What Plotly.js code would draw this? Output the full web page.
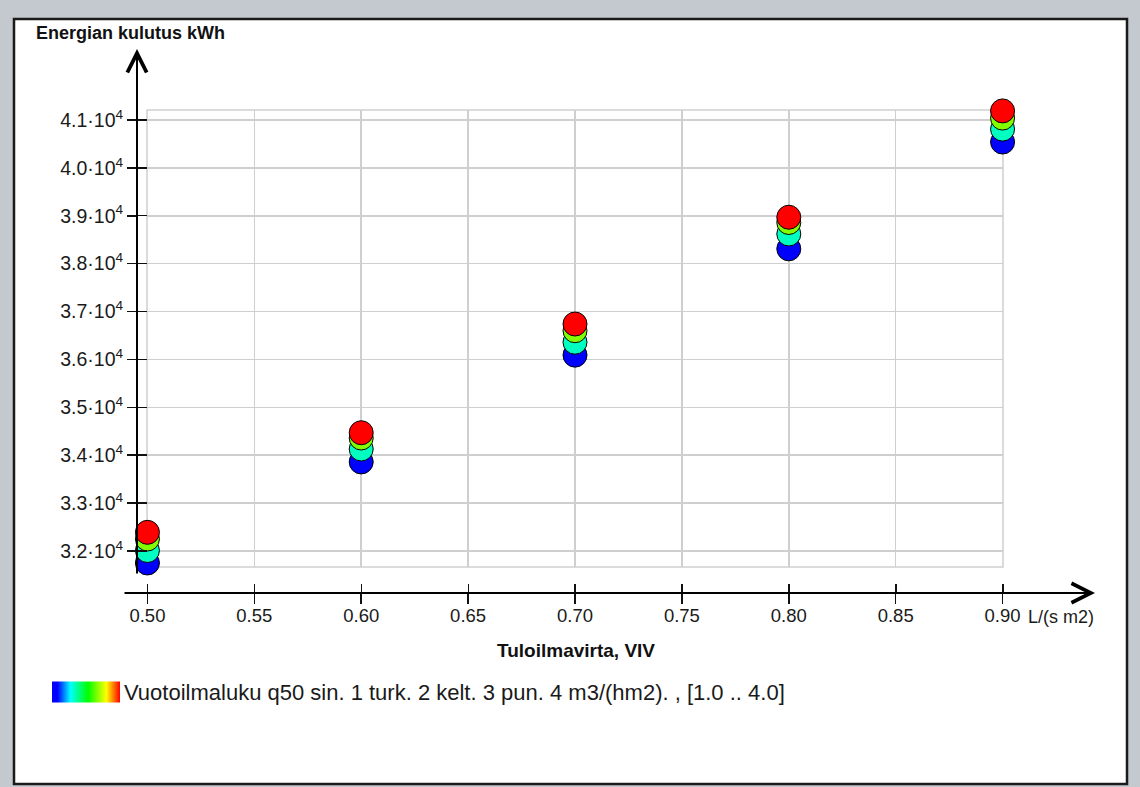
<!DOCTYPE html>
<html><head><meta charset="utf-8">
<script src="https://cdn.plot.ly/plotly-3.0.1.min.js"></script>
<style>html,body{margin:0;padding:0;background:#c3c9cf;} #chart{width:1140px;height:787px;}</style>
</head><body><div id="chart"></div>
<script>
// ---- data ----
const airflow = [0.50, 0.60, 0.70, 0.80, 0.90];          // Tuloilmavirta L/(s m2)
const q50Levels = [1, 2, 3, 4];                           // Vuotoilmaluku q50
const energyQ1 = [31750, 33860, 36090, 38310, 40540];     // sin. 1
const energyQ2 = [32010, 34130, 36360, 38620, 40810];     // turk. 2
const energyQ3 = [32250, 34360, 36600, 38860, 41040];     // kelt. 3
const energyQ4 = [32390, 34470, 36740, 38970, 41190];     // pun. 4
const xTickVals = [0.50, 0.55, 0.60, 0.65, 0.70, 0.75, 0.80, 0.85, 0.90];
const xTickText = ['0.50', '0.55', '0.60', '0.65', '0.70', '0.75', '0.80', '0.85', '0.90'];
const yTickVals = [32000, 33000, 34000, 35000, 36000, 37000, 38000, 39000, 40000, 41000];
const yTickText = ['3.2·10<sup>4</sup>', '3.3·10<sup>4</sup>', '3.4·10<sup>4</sup>', '3.5·10<sup>4</sup>', '3.6·10<sup>4</sup>',
                   '3.7·10<sup>4</sup>', '3.8·10<sup>4</sup>', '3.9·10<sup>4</sup>', '4.0·10<sup>4</sup>', '4.1·10<sup>4</sup>'];
const legendText = 'Vuotoilmaluku q50 sin. 1 turk. 2 kelt. 3 pun. 4 m3/(hm2). , [1.0 .. 4.0]';
const yTitle = 'Energian kulutus kWh';
const xTitle = 'Tuloilmavirta, VIV';
const xUnit = 'L/(s m2)';

// ---- build single colour-mapped trace ----
const series = [energyQ1, energyQ2, energyQ3, energyQ4];
const xs = [], ys = [], cs = [];
series.forEach((s, i) => s.forEach((v, j) => { xs.push(airflow[j]); ys.push(v); cs.push(q50Levels[i]); }));

const W = 1140, H = 787, ML = 137, MR = 137, MT = 110, MB = 194;
const PW = W - ML - MR, PH = H - MT - MB;
const fx = px => (px - ML) / PW;
const fy = py => 1 - (py - MT) / PH;
const FONT = 'Liberation Sans, Arial, sans-serif';

const trace = {
  type: 'scatter', mode: 'markers', x: xs, y: ys, cliponaxis: false, hoverinfo: 'x+y',
  marker: {
    size: 24, color: cs, cmin: 1, cmax: 4,
    colorscale: [[0, '#0000ff'], [0.08, '#0000ff'], [0.27, '#00ffff'], [0.53, '#00ff00'], [0.8, '#ffff00'], [1, '#ff0000']],
    line: {color: '#000', width: 1},
    showscale: true,
    colorbar: {
      orientation: 'h', thickness: 21, thicknessmode: 'pixels', len: 68, lenmode: 'pixels',
      x: fx(52), xanchor: 'left', y: fy(692), yanchor: 'middle', xpad: 0, ypad: 0,
      outlinewidth: 0, showticklabels: false, ticks: ''
    }
  }
};

const layout = {
  width: W, height: H,
  margin: {l: ML, r: MR, t: MT, b: MB, pad: 0},
  paper_bgcolor: '#c3c9cf', plot_bgcolor: 'rgba(0,0,0,0)',
  showlegend: false,
  font: {family: FONT, color: '#1a1a1a'},
  xaxis: {
    domain: [10 / PW, 1], range: [0.4998, 0.9002], anchor: 'free', position: 0,
    tickmode: 'array', tickvals: xTickVals, ticktext: xTickText,
    ticks: 'outside', ticklen: 10, tickwidth: 1.5, tickcolor: '#111',
    minor: {tickmode: 'array', tickvals: xTickVals.map(v => v + 1e-4), ticks: 'inside', ticklen: 9, tickwidth: 1.5, tickcolor: '#111', showgrid: false},
    showgrid: true, gridcolor: '#cfcfcf', gridwidth: 1.5, zeroline: false, showline: false,
    tickfont: {family: FONT, size: 18.5, color: '#1a1a1a'}, ticklabelstandoff: -4
  },
  yaxis: {
    domain: [26 / PH, 1], range: [31666, 41209], anchor: 'free', position: 0,
    tickmode: 'array', tickvals: yTickVals, ticktext: yTickText,
    ticks: 'outside', ticklen: 10, tickwidth: 1.5, tickcolor: '#111',
    minor: {tickmode: 'array', tickvals: yTickVals.map(v => v + 1), ticks: 'inside', ticklen: 9, tickwidth: 1.5, tickcolor: '#111', showgrid: false},
    showgrid: true, gridcolor: '#cfcfcf', gridwidth: 1.5, zeroline: false, showline: false,
    tickfont: {family: FONT, size: 19.5, color: '#1a1a1a'}, ticklabelstandoff: 0
  },
  shapes: [
    {type: 'rect', xref: 'paper', yref: 'paper', x0: fx(14), x1: fx(1127), y0: fy(784), y1: fy(19),
     fillcolor: '#ffffff', line: {color: '#1a1a1a', width: 2.5}, layer: 'below'},
    {type: 'rect', xref: 'x domain', yref: 'y domain', x0: 0, x1: 1, y0: 0, y1: 1,
     line: {color: '#cfcfcf', width: 1.5}, layer: 'below'}
  ],
  annotations: [
    {text: yTitle, xref: 'paper', yref: 'paper', x: fx(34), y: fy(33), xanchor: 'left', yanchor: 'middle', showarrow: false,
     font: {family: FONT, size: 18, weight: 'bold', color: '#111'}},
    {text: xTitle, xref: 'paper', yref: 'paper', x: fx(576), y: fy(650), xanchor: 'center', yanchor: 'middle', showarrow: false,
     font: {family: FONT, size: 19, weight: 'bold', color: '#111'}},
    {text: xUnit, xref: 'paper', yref: 'paper', x: fx(1026), y: fy(617), xanchor: 'left', yanchor: 'middle', showarrow: false,
     font: {family: FONT, size: 18, color: '#1a1a1a'}},
    {text: legendText, xref: 'paper', yref: 'paper', x: fx(122), y: fy(692), xanchor: 'left', yanchor: 'middle', showarrow: false,
     font: {family: FONT, size: 22, color: '#1a1a1a'}},
    {text: '', xref: 'paper', yref: 'paper', x: 0, y: fy(49), axref: 'pixel', ayref: 'pixel', ax: 0, ay: 526,
     showarrow: true, arrowhead: 5, arrowsize: 1.9, arrowwidth: 2, arrowcolor: '#000', standoff: 0},
    {text: '', xref: 'paper', yref: 'paper', x: fx(1095), y: 0, axref: 'pixel', ayref: 'pixel', ax: -972, ay: 0,
     showarrow: true, arrowhead: 5, arrowsize: 1.9, arrowwidth: 2, arrowcolor: '#000', standoff: 0}
  ]
};

Plotly.newPlot('chart', [trace], layout, {displayModeBar: false, staticPlot: true});
</script>
</body></html>
